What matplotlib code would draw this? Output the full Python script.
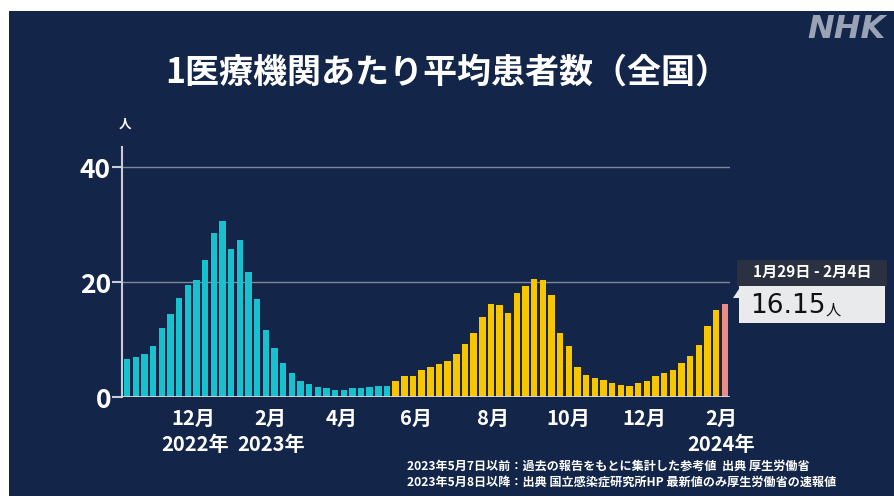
import matplotlib
matplotlib.use("Agg")
import matplotlib.pyplot as plt
from matplotlib.patches import Rectangle, Polygon

plt.rcParams['font.family'] = ['Noto Sans CJK JP', 'DejaVu Sans']

# Data (weekly, Oct 2022 - Feb 2024)
before_may8 = [6.6, 7.0, 7.4, 8.9, 12.0, 14.4, 17.2, 19.5, 20.4, 23.9, 28.5, 30.6,
               25.8, 27.4, 21.7, 17.1, 11.6, 8.5, 5.9, 4.2, 2.7, 2.3, 1.75, 1.5,
               1.3, 1.3, 1.5, 1.5, 1.75, 2.0, 2.0]
after_may8 = [2.75, 3.7, 3.7, 4.7, 5.3, 5.7, 6.3, 7.4, 9.3, 11.2, 14.0, 16.2, 16.0,
              14.6, 18.1, 19.3, 20.6, 20.4, 17.8, 11.2, 8.9, 5.3, 3.9, 3.3, 3.0,
              2.5, 2.1, 2.0, 2.5, 2.8, 3.6, 4.2, 4.7, 5.9, 7.1, 9.1, 12.4, 15.1]
latest = [16.15]
latest_label = "1月29日 - 2月4日"
month_labels = ["12月", "2月", "4月", "6月", "8月", "10月", "12月", "2月"]
month_pos = [7.6, 16.5, 24.8, 33.4, 42.2, 50.9, 59.7, 68.6]
year_labels = ["2022年", "2023年", "2024年"]
year_pos = [7.8, 16.6, 68.6]
yticks = [0, 20, 40]

BG = "#13264a"
CYAN = "#17c1cd"
YELLOW = "#f7c600"
PINK = "#ea8c88"

fig = plt.figure(figsize=(8.94, 4.96), dpi=100)
fig.patch.set_facecolor("white")
fig.patches.append(Rectangle((9/894, 0), 1, 1 - 11/496, transform=fig.transFigure,
                             facecolor=BG, edgecolor="none", zorder=-10))

ax = fig.add_axes([122/894, 99/496, 608/894, 250/496])
ax.set_facecolor(BG)

n1, n2 = len(before_may8), len(after_may8)
x1 = list(range(n1))
x2 = list(range(n1, n1 + n2))
x3 = list(range(n1 + n2, n1 + n2 + len(latest)))
w = 0.74
ax.bar(x1, before_may8, width=w, color=CYAN, zorder=3)
ax.bar(x2, after_may8, width=w, color=YELLOW, zorder=3)
ax.bar(x3, latest, width=w, color=PINK, zorder=3)

ax.set_xlim(-0.6, 69.6)
ax.set_ylim(0, 43.5)
for s in ["top", "right", "bottom"]:
    ax.spines[s].set_visible(False)
ax.spines["left"].set_color("#c8ccd6")
ax.spines["left"].set_linewidth(1.5)
ax.axhline(0, color="#d8dbe2", lw=2, zorder=4)
for yv in yticks[1:]:
    ax.axhline(yv, color="#7d8899", lw=1, zorder=1)

ax.set_yticks(yticks)
ax.set_yticklabels([str(v) for v in yticks], color="white", fontsize=19, fontweight="bold")
ax.tick_params(axis="y", colors="#c8ccd6", length=7, width=1.5, pad=1)
ax.tick_params(axis="y", labelcolor="white")
ax.set_xticks(month_pos)
ax.set_xticklabels(month_labels, color="white", fontsize=14.5, fontweight="bold")
ax.tick_params(axis="x", length=0, pad=8)

for lab, p in zip(year_labels, year_pos):
    ax.text(p, -0.19, lab, transform=ax.get_xaxis_transform(), ha="center", va="center",
            color="white", fontsize=14.5, fontweight="bold")

ax.text(-0.3, 47.5, "人", color="white", fontsize=9, ha="center", va="center",
        fontweight="bold", clip_on=False)

# Title and logo
fig.text(447/894, 1 - 72/496, "1医療機関あたり平均患者数（全国）", color="white",
         fontsize=24.5, fontweight="bold", ha="center", va="center")
fig.text(846/894, 1 - 30/496, "NHK", color="#9aa3b5", fontsize=23, fontweight="heavy",
         style="italic", ha="center", va="center", family="DejaVu Sans")

# Annotation box
fig.patches.append(Rectangle((737/894, 1 - 286/496), 150/894, 26/496, transform=fig.transFigure,
                             facecolor="#2b3140", edgecolor="none", zorder=5))
fig.patches.append(Rectangle((739/894, 1 - 323/496), 146/894, 37/496, transform=fig.transFigure,
                             facecolor="#e9eaec", edgecolor="none", zorder=5))
fig.patches.append(Polygon([(733/894, 1 - 298/496), (739/894, 1 - 289/496), (739/894, 1 - 298/496)],
                           closed=True, transform=fig.transFigure, facecolor="#e9eaec",
                           edgecolor="none", zorder=5))
fig.text(812/894, 1 - 272/496, latest_label, color="white", fontsize=11,
         fontweight="bold", ha="center", va="center", zorder=6)
fig.text(750/894, 1 - 306/496, f"{latest[0]:.2f}", color="#111111", fontsize=19,
         ha="left", va="center", zorder=6, family="DejaVu Sans")
fig.text(826/894, 1 - 310/496, "人", color="#111111", fontsize=11,
         ha="left", va="center", zorder=6)

# Footnotes
fig.text(407/894, 1 - 466/496, "2023年5月7日以前：過去の報告をもとに集計した参考値  出典 厚生労働省",
         color="white", fontsize=8.7, fontweight="bold", ha="left", va="center")
fig.text(407/894, 1 - 482/496, "2023年5月8日以降：出典 国立感染症研究所HP 最新値のみ厚生労働省の速報値",
         color="white", fontsize=8.7, fontweight="bold", ha="left", va="center")

fig.savefig("out.png", dpi=100, facecolor=fig.get_facecolor())
